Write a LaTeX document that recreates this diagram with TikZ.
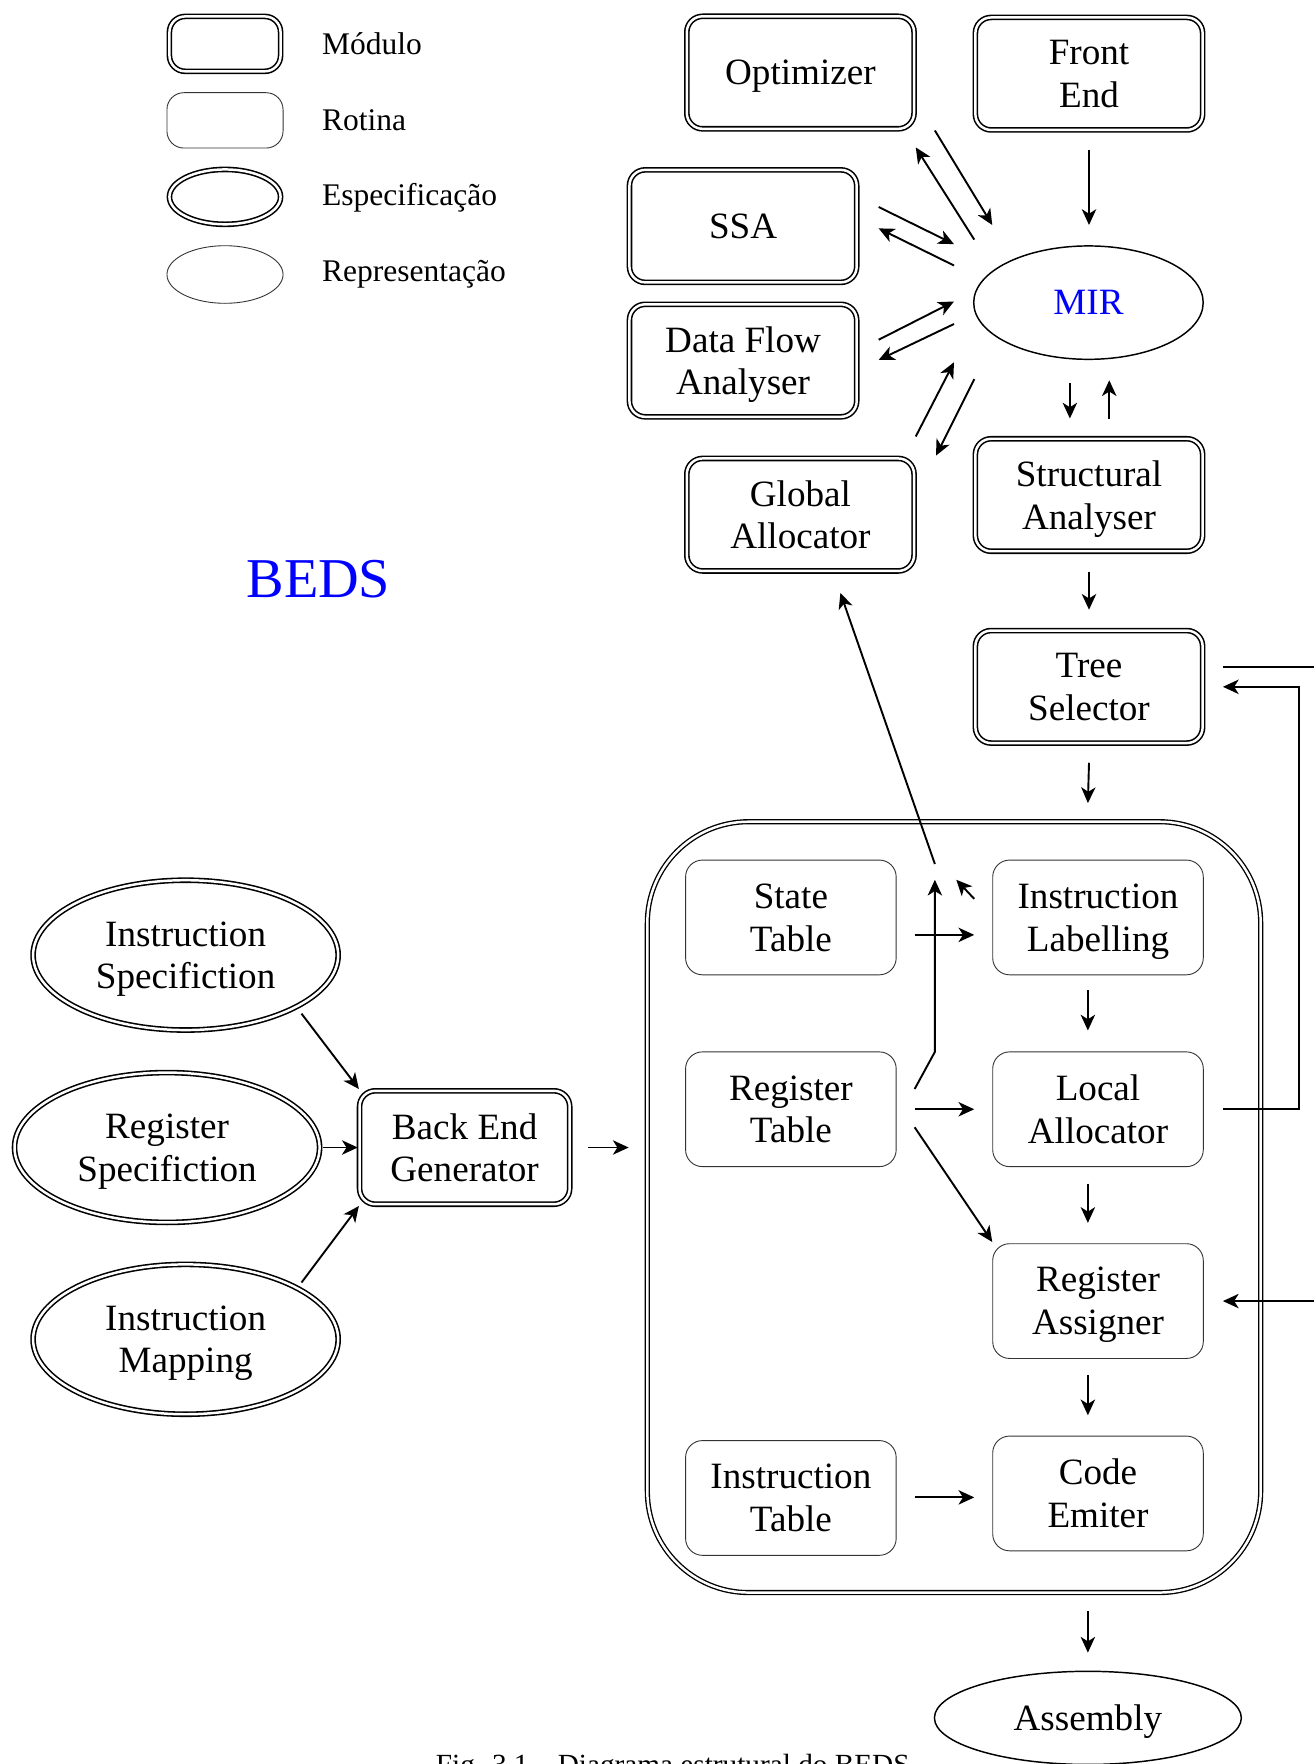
\documentclass[tikz,border=0pt]{standalone}
\usepackage{fontspec}
\setmainfont{Liberation Serif}
\usetikzlibrary{arrows.meta,shapes.geometric,calc}
\newcommand\nodesz{\fontsize{16.5}{19}\selectfont}
\newcommand\legsz{\fontsize{14}{16}\selectfont}
\begin{document}
\begin{tikzpicture}[x=0.5pt,y=-0.5pt,
  modbox/.style={draw, rounded corners=7pt, line width=0.7pt, double, double distance=1.1pt,
    minimum width=101pt, minimum height=50pt, inner sep=0pt, align=center, font=\nodesz, text depth=0pt},
  rotbox/.style={draw=black!80, rounded corners=7.5pt, line width=0.4pt,
    minimum width=93.6pt, minimum height=51pt, inner sep=0pt, align=center, font=\nodesz, text depth=0pt},
  specell/.style={ellipse, draw, line width=0.7pt, double, double distance=1.1pt,
    minimum width=135.6pt, minimum height=66.6pt, inner sep=0pt, align=center, font=\nodesz, text depth=0pt},
  repell/.style={ellipse, draw, line width=0.65pt, inner sep=0pt, align=center, font=\nodesz, text depth=0pt},
  arr/.style={line width=0.85pt, -{Stealth[length=7pt,width=6.4pt,inset=2pt]}},
  link/.style={line width=0.85pt},
  legtext/.style={anchor=west, font=\legsz, inner sep=0pt},
]
\useasboundingbox (0,0) rectangle (1168,1568);

% legend
\node[modbox, minimum width=49.4pt, minimum height=24.4pt] (lmod) at (200,39) {};
\node[legtext] (lmodt) at (286,39) {Módulo};
\node[rotbox, minimum width=51.6pt, minimum height=24.6pt] (lrot) at (200,107) {};
\node[legtext] (lrott) at (286,107) {Rotina};
\node[specell, minimum width=49.4pt, minimum height=24.4pt] (lspec) at (200,175) {};
\node[legtext] (lspect) at (286,176) {Especificação};
\node[repell, draw=black!80, line width=0.4pt, minimum width=51.6pt, minimum height=25.6pt] (lrep) at (200,244) {};
\node[legtext] (lrept) at (286,244) {Representação};

% modules around the intermediate representation
\node[modbox] (opt) at (711.5,64.5) {Optimizer};
\node[modbox] (fe) at (968,65.5) {Front\\End};
\node[modbox] (ssa) at (660.5,201) {SSA};
\node[modbox] (dfa) at (660.5,320.5) {Data Flow\\Analyser};
\node[modbox] (ga) at (711.5,457.5) {Global\\Allocator};
\node[repell, minimum width=102pt, minimum height=50.4pt, text=blue] (mir) at (967.5,269) {MIR};
\node[modbox] (sa) at (968,440) {Structural\\Analyser};
\node[modbox] (ts) at (968,610.5) {Tree\\Selector};
\node[font=\fontsize{25}{30}\selectfont, text=blue] (beds) at (283,515) {BEDS};

% generated back end
\node[draw, rounded corners=45pt, line width=0.6pt, double, double distance=1.1pt,
  minimum width=272.6pt, minimum height=342.6pt] (cont) at (848,1073) {};
\node[rotbox] (st) at (703,815.5) {State\\Table};
\node[rotbox] (il) at (976,815.5) {Instruction\\Labelling};
\node[rotbox] (rt) at (703,986) {Register\\Table};
\node[rotbox] (la) at (976,986) {Local\\Allocator};
\node[rotbox] (ra) at (976,1156.5) {Register\\Assigner};
\node[rotbox] (it) at (703,1331.5) {Instruction\\Table};
\node[rotbox] (ce) at (976,1327.5) {Code\\Emiter};
\node[repell, minimum width=136.4pt, minimum height=41.4pt] (asm) at (967,1527) {Assembly};

% specifications
\node[specell] (is) at (165,849) {Instruction\\Specifiction};
\node[specell] (rs) at (148.5,1020) {Register\\Specifiction};
\node[specell] (im) at (165,1190.5) {Instruction\\Mapping};
\node[modbox, minimum width=93.4pt, minimum height=50.4pt] (beg) at (413,1020) {Back End\\Generator};

\node[anchor=base, font=\fontsize{13}{15}\selectfont, inner sep=0pt] (cap) at (598,1577)
  {Fig. 3.1 – Diagrama estrutural do BEDS};

% connectors of the upper part
\draw[arr] ($(fe)+(0,67.5)$) -- ($(mir)+(0.5,-69)$);
\draw[arr] ($(opt)+(119.5,51.5)$) -- ($(mir)+(-85.5,-69)$);
\draw[arr] ($(mir)+(-101.5,-56)$) -- ($(opt)+(102.5,66.5)$);
\draw[arr] ($(ssa)+(120.5,-17)$) -- ($(mir)+(-119.5,-52)$);
\draw[arr] ($(mir)+(-119.5,-33)$) -- ($(ssa)+(120.5,2)$);
\draw[arr] ($(dfa)+(120.5,-18.5)$) -- ($(mir)+(-119.5,-1)$);
\draw[arr] ($(mir)+(-119.5,19)$) -- ($(dfa)+(120.5,-0.5)$);
\draw[arr] ($(ga)+(102.5,-69.5)$) -- ($(mir)+(-119.5,53)$);
\draw[arr] ($(mir)+(-101.5,68)$) -- ($(ga)+(120.5,-52.5)$);
\draw[arr] ($(mir)+(-16.5,71)$) -- ($(sa)+(-17,-68)$);
\draw[arr] ($(sa)+(18,-68)$) -- ($(mir)+(18.5,69)$);
\draw[arr] ($(sa)+(0,68)$) -- ($(ts)+(0,-68.5)$);
\draw[arr] ($(ts)+(0,67.5)$) -- ($(cont.north)+(119,-16)$);

% lines leaving on the right
\coordinate (tsout) at (1168,593);
\coordinate (rain) at (1168,1156.5);
\draw[link] ($(ts)+(119,-17.5)$) -- (tsout);
\draw[arr] (rain) -- ($(ra)+(111,0)$);
\draw[arr] ($(la)+(111,0)$) -- ($(la)+(179,0)$) |- ($(ts)+(119,0)$);

% inside the back end
\draw[arr] ($(st)+(110,15.5)$) -- ($(il)+(-110,15.5)$);
\draw[arr] ($(il)+(-9,64.5)$) -- ($(la)+(-9,-70)$);
\draw[arr] ($(la)+(-9,66)$) -- ($(ra)+(-9,-69.5)$);
\draw[arr] ($(ra)+(-9,65.5)$) -- ($(ce)+(-9,-69.5)$);
\draw[arr] ($(rt)+(110,0)$) -- ($(la)+(-110,0)$);
\draw[arr] ($(rt)+(110,16)$) -- ($(ra)+(-94,-52.5)$);
\draw[arr] ($(rt)+(110,-18)$) -- ($(rt)+(128,-51)$) -- ($(st)+(128,-33.5)$);
\draw[arr] ($(il)+(-110,-16.5)$) -- ($(il)+(-126,-33.5)$);
\coordinate (jn) at (831,768);
\draw[arr] (jn) -- ($(ga)+(35.5,69.5)$);
\draw[arr] ($(it)+(110,-0.5)$) -- ($(ce)+(-110,3.5)$);
\draw[arr] ($(cont.south)+(119,16)$) -- ($(asm)+(0,-58)$);

% specifications into the generator
\draw[arr] ($(is)+(103,52)$) -- ($(beg)+(-94,-52)$);
\draw[arr] ($(rs)+(138.5,0)$) -- ($(beg)+(-95,0)$);
\draw[arr] ($(im)+(103,-50.5)$) -- ($(beg)+(-94,52)$);
\draw[arr] ($(beg)+(110,0)$) -- ($(cont.west)+(-16,-53)$);
\end{tikzpicture}
\end{document}
